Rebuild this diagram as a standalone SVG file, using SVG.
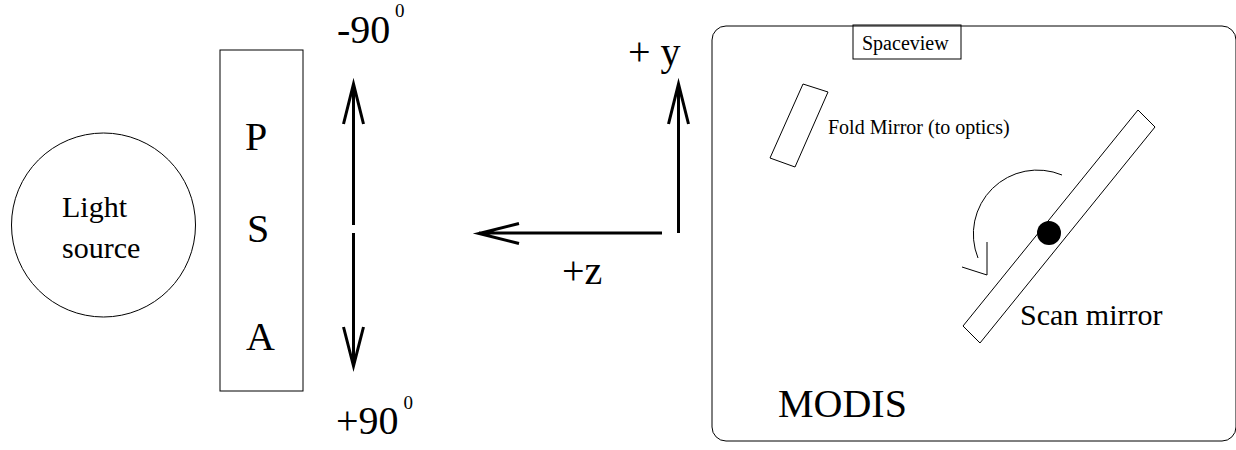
<svg xmlns="http://www.w3.org/2000/svg" width="1236" height="450" viewBox="0 0 1236 450">
<style>
text{font-family:"Liberation Serif","Times New Roman",serif;fill:#000}
.s{fill:none;stroke:#000;stroke-width:1}
.a{fill:none;stroke:#000;stroke-width:3;stroke-miterlimit:10}
</style>
<rect width="1236" height="450" fill="#fff"/>
<g id="light-source"><circle class="s" cx="103.500" cy="225" r="92"/><text x="62" y="217" font-size="30">Light</text><text x="62" y="258" font-size="30">source</text></g>
<g id="psa"><rect class="s" x="220" y="50" width="83" height="341"/><text x="245" y="150" font-size="40">P</text><text x="247" y="242" font-size="40">S</text><text x="246" y="350" font-size="40">A</text></g>
<g id="angle-labels"><text x="337" y="42.500" font-size="40">-90</text><text x="395" y="17" font-size="19">0</text><text x="336" y="434" font-size="40">+90</text><text x="403.500" y="409" font-size="19">0</text></g>
<g id="axis-labels"><text x="628" y="65" font-size="40">+ y</text><text x="562" y="284" font-size="40">+z</text></g>
<g id="modis"><rect class="s" x="712" y="26" width="524" height="415" rx="14"/><text x="778" y="417" font-size="40">MODIS</text></g>
<g id="spaceview"><rect class="s" x="853" y="25" width="108" height="34"/><text x="862" y="50" font-size="20">Spaceview</text></g>
<g id="fold-mirror"><polygon class="s" points="803,84 828,92 795,167 770,158"/><text x="828" y="134" font-size="20">Fold Mirror (to optics)</text></g>
<g id="scan-mirror"><polygon class="s" points="1138,110 1155,127 980,343 963,326"/><circle cx="1049" cy="233" r="12" fill="#000"/><text x="1020" y="325" font-size="30">Scan mirror</text></g>
<g id="connectors">
<path class="a" d="M353.500 225V84M343.500 124L353.500 84L363.500 124M353.500 233V366M343.500 327L353.500 366L363.500 327"/>
<path class="a" d="M678.500 233V84M668.500 124L678.500 84L688.500 124"/>
<path class="a" d="M662 233H479M519 223.500L479 233.500L519 243.500"/>
<path class="s" d="M1062 175A64 64 0 0 0 978 258M987 242V275L962 267"/>
</g>
</svg>
